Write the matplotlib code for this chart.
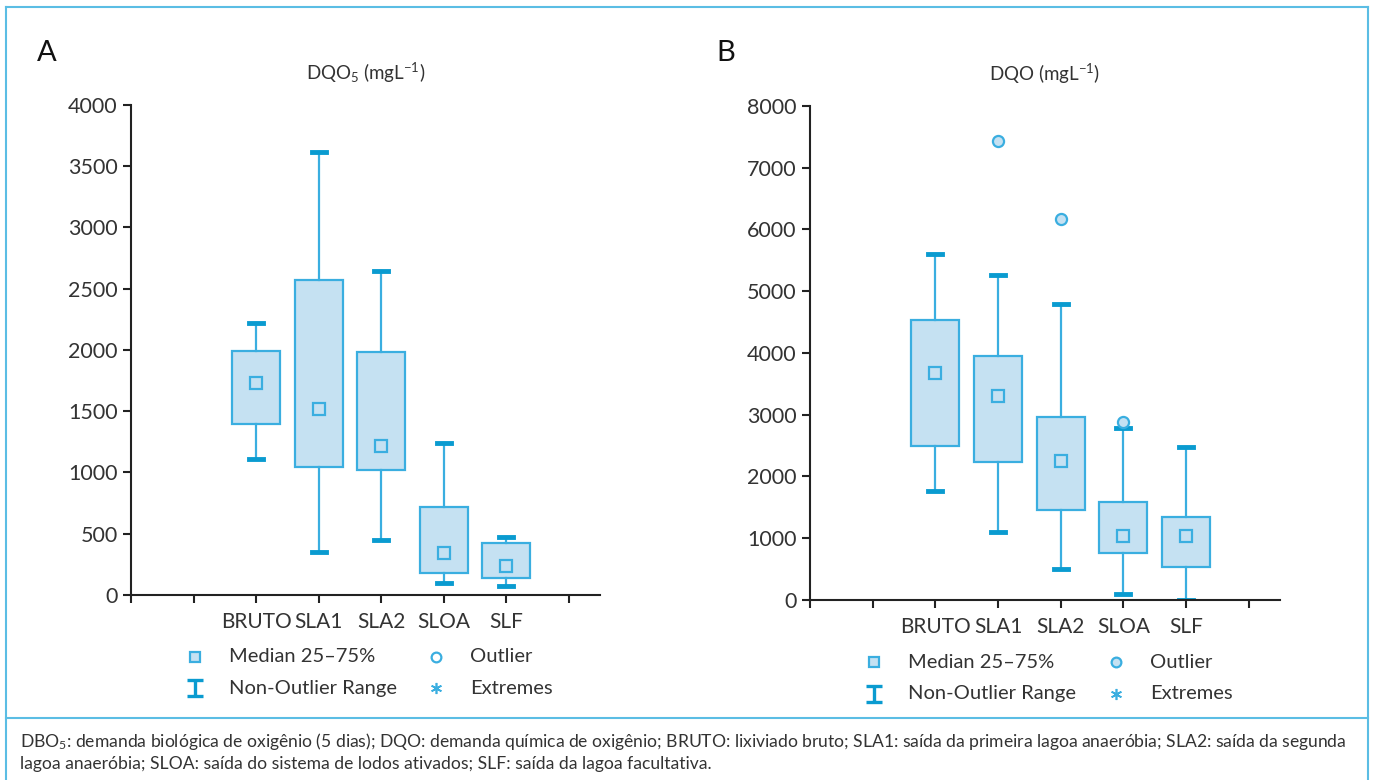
import matplotlib
matplotlib.use('Agg')
import matplotlib.pyplot as plt
from matplotlib.lines import Line2D
from matplotlib.path import Path

plt.rcParams['font.family'] = ['Lato', 'DejaVu Sans']
plt.rcParams['mathtext.fontset'] = 'custom'
plt.rcParams['mathtext.rm'] = 'Lato'
plt.rcParams['mathtext.it'] = 'Lato'

# data
categories = ['BRUTO', 'SLA1', 'SLA2', 'SLOA', 'SLF']
positions = [2, 3, 4, 5, 6]

# A: DBO5 (mg/L)
a_whislo = [1110, 350, 450, 98, 73]
a_q1 = [1396, 1045, 1020, 180, 139]
a_med = [1730, 1518, 1216, 343, 237]
a_q3 = [1992, 2571, 1984, 718, 424]
a_whishi = [2220, 3616, 2645, 1241, 473]
a_fliers = [[], [], [], [], []]

# B: DQO (mg/L)
b_whislo = [1765, 1101, 502, 97, 0]
b_q1 = [2494, 2235, 1457, 761, 534]
b_med = [3676, 3304, 2251, 1036, 1036]
b_q3 = [4534, 3951, 2964, 1587, 1344]
b_whishi = [5603, 5263, 4793, 2785, 2478]
b_fliers = [[], [7433], [6170], [2883], []]

legend_names = ['Median 25–75%', 'Outlier', 'Non-Outlier Range', 'Extremes']

fill = '#c5e1f2'
edge = '#3aaee0'
capc = '#0a9bd0'
txt = '#333333'

caption = ('DBO$_{5}$: demanda biológica de oxigênio (5 dias); DQO: demanda química de oxigênio; '
           'BRUTO: lixiviado bruto; SLA1: saída da primeira lagoa anaeróbia; SLA2: saída da segunda\n'
           'lagoa anaeróbia; SLOA: saída do sistema de lodos ativados; SLF: saída da lagoa facultativa.')

# I-shaped marker for the legend
ibar = Path([(-1, -1), (1, -1), (0, -1), (0, 1), (-1, 1), (1, 1)],
            [Path.MOVETO, Path.LINETO, Path.MOVETO, Path.LINETO, Path.MOVETO, Path.LINETO])

fig = plt.figure(figsize=(13.75, 7.8), dpi=100)
ax1 = fig.add_axes([0.0953, 0.2372, 0.3411, 0.6282])
ax2 = fig.add_axes([0.5891, 0.2308, 0.3418, 0.6333])


def draw(ax, whislo, q1, med, q3, whishi, fliers, ymax, title, label, filled):
    stats = []
    for i in range(len(categories)):
        stats.append({'whislo': whislo[i], 'q1': q1[i], 'med': med[i], 'q3': q3[i],
                      'whishi': whishi[i], 'fliers': fliers[i]})
    ax.bxp(stats, positions=positions, widths=0.77, patch_artist=True,
           boxprops=dict(facecolor=fill, edgecolor=edge, linewidth=1.6),
           whiskerprops=dict(color=edge, linewidth=1.6),
           capprops=dict(color=capc, linewidth=3.5),
           capwidths=0.22,
           medianprops=dict(linestyle='none'),
           flierprops=dict(marker='o', markersize=8, markerfacecolor=fill,
                           markeredgecolor=edge, markeredgewidth=1.6))
    ax.plot(positions, med, 's', markersize=8, markerfacecolor=fill,
            markeredgecolor=edge, markeredgewidth=1.6, linestyle='none')
    ax.set_xlim(0, 7.5)
    ax.set_ylim(0, ymax)
    ax.set_xticks(range(8))
    ax.set_xticklabels(['', ''] + categories + [''])
    ax.spines['top'].set_visible(False)
    ax.spines['right'].set_visible(False)
    for s in ['left', 'bottom']:
        ax.spines[s].set_linewidth(1.5)
        ax.spines[s].set_color('#222222')
    ax.tick_params(axis='both', direction='out', length=6, width=1.5, color='#222222',
                   labelsize=15.5, labelcolor=txt)
    ax.tick_params(axis='x', pad=6, labelsize=15)
    ax.set_title(title, fontsize=13.5, color=txt, pad=18)
    ax.text(-0.2, 1.08, label, transform=ax.transAxes, fontsize=21, color='#111111',
            va='bottom')

    # legend, laid out by hand in axes fractions
    circ_face = fill if filled else 'white'
    cols = [0.136, 0.651]
    rows = [-0.126, -0.19]
    kw = dict(transform=ax.transAxes, clip_on=False, linestyle='none')
    ax.plot([cols[0]], [rows[0]], marker='s', markersize=7, markerfacecolor=fill,
            markeredgecolor=edge, markeredgewidth=1.6, **kw)
    ax.plot([cols[1]], [rows[0]], marker='o', markersize=7, markerfacecolor=circ_face,
            markeredgecolor=edge, markeredgewidth=1.6, **kw)
    ax.plot([cols[0]], [rows[1]], marker=ibar, markersize=12, markeredgecolor=capc,
            markeredgewidth=2.4, **kw)
    ax.plot([cols[1]], [rows[1]], marker=(6, 2, 0), markersize=8,
            markeredgecolor=edge, markeredgewidth=1.2, **kw)
    for k, name in enumerate(legend_names):
        ax.text(cols[k % 2] + 0.072, rows[k // 2], name, transform=ax.transAxes,
                fontsize=14.5, color=txt, va='center', ha='left')


draw(ax1, a_whislo, a_q1, a_med, a_q3, a_whishi, a_fliers, 4000,
     'DQO$_{5}$ (mgL$^{-1}$)', 'A', False)
draw(ax2, b_whislo, b_q1, b_med, b_q3, b_whishi, b_fliers, 8000,
     'DQO (mgL$^{-1}$)', 'B', True)
ax1.set_yticks(range(0, 4001, 500))
ax2.set_yticks(range(0, 8001, 1000))

# frame and caption separator
frame = '#5bbde4'
fig.add_artist(Line2D([0.004, 0.004], [0.0, 0.991], transform=fig.transFigure, color=frame, lw=1.5))
fig.add_artist(Line2D([0.995, 0.995], [0.0, 0.991], transform=fig.transFigure, color=frame, lw=1.5))
fig.add_artist(Line2D([0.004, 0.995], [0.991, 0.991], transform=fig.transFigure, color=frame, lw=1.5))
fig.add_artist(Line2D([0.004, 0.995], [0.079, 0.079], transform=fig.transFigure, color=frame, lw=1.5))
fig.text(0.0145, 0.063, caption, fontsize=12.6, color=txt, va='top', linespacing=1.32)

fig.savefig('out.png', dpi=100, facecolor='white')
